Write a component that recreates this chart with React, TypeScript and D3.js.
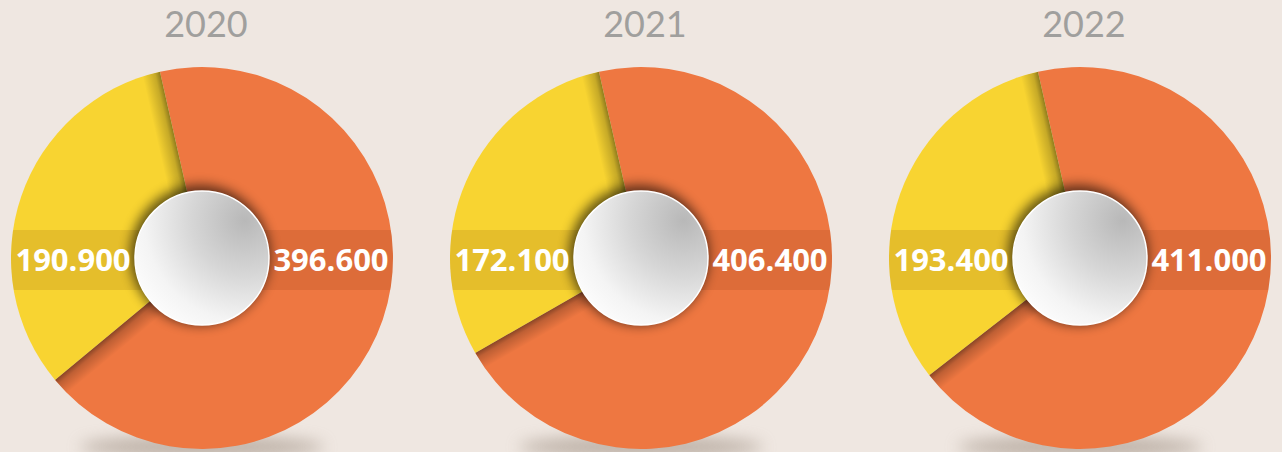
import { scalePoint, pie, arc, formatLocale, PieArcDatum } from 'd3'

const years = ['2020', '2021', '2022']
const yellowValues = [190900, 172100, 193400]
const orangeValues = [396600, 406400, 411000]
const sliceColors = ['#ee7741', '#f8d431'] // orange first, then yellow

const width = 1282
const height = 452
const R = 191
const innerR = 67
const cy = 258
const bandY = 260
const bandH = 60
const startAngle = -0.222

const fmt = formatLocale({ decimal: ',', thousands: '.', grouping: [3], currency: ['', ''] }).format(',d')

const xScale = scalePoint<string>().domain(years).range([202, 1080])

const pieGen = pie<number>().sort(null).startAngle(startAngle).endAngle(startAngle + Math.PI * 2)
const arcGen = arc<PieArcDatum<number>>().innerRadius(0).outerRadius(R)

const deg = (a: number) => (a * 180) / Math.PI

const App = () => {
  return (
    <svg width={width} height={height} style={{ position: 'absolute', left: 0, top: 0, display: 'block' }}>
      <defs>
        <radialGradient id="knob" cx="0.82" cy="0.22" r="1" fx="0.82" fy="0.22">
          <stop offset="0" stopColor="#b8b8b8" />
          <stop offset="0.4" stopColor="#d6d6d6" />
          <stop offset="0.75" stopColor="#f4f4f4" />
          <stop offset="1" stopColor="#ffffff" />
        </radialGradient>
        <linearGradient id="edgeShade" x1="1" x2="0" y1="0" y2="0">
          <stop offset="0" stopColor="#000" stopOpacity="0.42" />
          <stop offset="0.3" stopColor="#000" stopOpacity="0.2" />
          <stop offset="1" stopColor="#000" stopOpacity="0" />
        </linearGradient>
        <filter id="blur6" x="-50%" y="-50%" width="200%" height="200%">
          <feGaussianBlur stdDeviation="6" />
        </filter>
        <filter id="blur9" x="-50%" y="-200%" width="200%" height="500%">
          <feGaussianBlur stdDeviation="8" />
        </filter>
        <clipPath id="disc">
          <circle r={R} />
        </clipPath>
      </defs>
      <rect width={width} height={height} fill="#efe7e1" />
      {years.map((year, i) => {
        const cx = xScale(year) ?? 0
        const arcs = pieGen([orangeValues[i], yellowValues[i]])
        const labelOffset = (R + innerR) / 2
        return (
          <g key={year}>
            <text x={cx + 4} y={37} textAnchor="middle" fontFamily="Lato, 'Open Sans', sans-serif"
              fontWeight={400} fontSize={36} fill="#a09f9d">{year}</text>
            <ellipse cx={cx} cy={447} rx={122} ry={11} fill="#9e8f82" opacity={0.6} filter="url(#blur9)" />
            <g transform={`translate(${cx}, ${cy})`}>
              {arcs.map((a, j) => (
                <path key={j} d={arcGen(a) || ''} fill={sliceColors[j]} />
              ))}
              <g clipPath="url(#disc)">
                {arcs.map((a, j) => (
                  <rect key={'s' + j} x={-18} y={-R} width={18} height={R}
                    fill="url(#edgeShade)" transform={`rotate(${deg(a.startAngle)})`} />
                ))}
                <rect x={-R} y={bandY - cy - bandH / 2} width={R * 2} height={bandH} fill="rgb(100,30,0)" opacity={0.12} />
                <circle cx={-2} cy={-3} r={innerR + 3} fill="#000" opacity={0.6} filter="url(#blur6)" />
              </g>
              <circle r={innerR} fill="url(#knob)" stroke="#ffffff" strokeWidth={1.5} />
              <text x={-labelOffset} y={bandY - cy} dy="0.35em" textAnchor="middle" fontFamily="'Open Sans', sans-serif"
                fontWeight={700} fontSize={31} fill="#ffffff">{fmt(yellowValues[i])}</text>
              <text x={labelOffset} y={bandY - cy} dy="0.35em" textAnchor="middle" fontFamily="'Open Sans', sans-serif"
                fontWeight={700} fontSize={31} fill="#ffffff">{fmt(orangeValues[i])}</text>
            </g>
          </g>
        )
      })}
    </svg>
  )
}

export default App
